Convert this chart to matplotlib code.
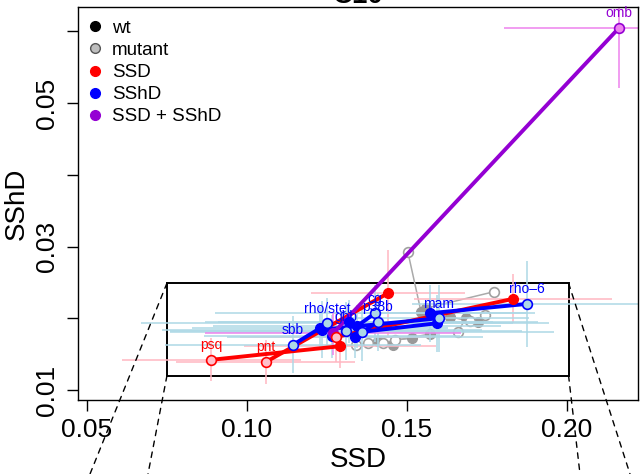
import matplotlib
matplotlib.use('Agg')
import matplotlib.pyplot as plt
from matplotlib.lines import Line2D
from matplotlib.patches import Rectangle, ConnectionPatch

plt.rcParams['font.family'] = ['Liberation Sans', 'DejaVu Sans']

# ---------------- data (SSD, SShD) ----------------
# gray: non-significant genotypes (wt filled, mutant open)
gray_mut_x = [0.1503, 0.1772, 0.1659, 0.1463, 0.1425, 0.1378, 0.1697, 0.1341, 0.1744]
gray_mut_y = [0.0292, 0.0237, 0.0181, 0.0170, 0.0166, 0.0166, 0.0196, 0.0163, 0.0205]
gray_wt_x = [0.1544, 0.1559, 0.1684, 0.1516, 0.1572, 0.1456, 0.1634, 0.1409, 0.1722]
gray_wt_y = [0.0209, 0.0214, 0.0200, 0.0172, 0.0178, 0.0163, 0.0202, 0.0168, 0.0195]

# red: SSD significant
red_names = ['psq', 'pnt', '']
red_mut_x = [0.0888, 0.1059, 0.1278]
red_mut_y = [0.0142, 0.0139, 0.0174]
red_wt_x = [0.1291, 0.1441, 0.1831]
red_wt_y = [0.0161, 0.0235, 0.0227]
red_mut_xerr = [0.028, 0.028, 0.030]
red_mut_yerr = [0.0030, 0.0030, 0.0035]
red_wt_xerr = [0.030, 0.024, 0.031]
red_wt_yerr = [0.0030, 0.0060, 0.0034]

# blue: SShD significant
blue_names = ['rho\u20136', 'mam', 'sbb', 'rho/stet', 'cg', 'p38b', 'gbb', '']
blue_mut_x = [0.1875, 0.1600, 0.1144, 0.1250, 0.1400, 0.1409, 0.1309, 0.1359]
blue_mut_y = [0.0220, 0.0200, 0.0163, 0.0193, 0.0207, 0.0195, 0.0182, 0.0181]
blue_wt_x = [0.1572, 0.1234, 0.1228, 0.1266, 0.1344, 0.1338, 0.1319, 0.1594]
blue_wt_y = [0.0207, 0.0184, 0.0186, 0.0175, 0.0189, 0.0174, 0.0195, 0.0193]
blue_mut_xerr = [0.036, 0.028, 0.040, 0.058, 0.050, 0.050, 0.055, 0.060]
blue_mut_yerr = [0.0060, 0.0047, 0.0040, 0.0035, 0.0040, 0.0040, 0.0040, 0.0040]
blue_wt_xerr = [0.030, 0.050, 0.040, 0.040, 0.045, 0.040, 0.045, 0.035]
blue_wt_yerr = [0.0040, 0.0040, 0.0030, 0.0030, 0.0030, 0.0030, 0.0030, 0.0040]

# purple: SSD + SShD significant
purple_names = ['omb']
purple_mut_x = [0.2163]
purple_mut_y = [0.0605]
purple_wt_x = [0.1269]
purple_wt_y = [0.0179]
purple_mut_xerr = [0.036]
purple_mut_yerr = [0.0084]
purple_wt_xerr = [0.040]
purple_wt_yerr = [0.0030]

# zoom region drawn as rectangle
zoom_x = [0.075, 0.2005]
zoom_y = [0.012, 0.0249]

legend_labels = ['wt', 'mutant', 'SSD', 'SShD', 'SSD + SShD']

# ---------------- figure ----------------
W, H = 641, 474
fig = plt.figure(figsize=(W / 100, H / 100), dpi=100)
ax = fig.add_axes([78 / W, 1 - 400 / H, 560 / W, 393 / H])
ax.set_xlim(0.0472, 0.2222)
ax.set_ylim(0.0086, 0.0634)

groups = [
    (red_names, red_mut_x, red_mut_y, red_wt_x, red_wt_y, red_mut_xerr, red_mut_yerr,
     red_wt_xerr, red_wt_yerr, '#FF0000', '#FFC0CB', '#FFB6C1', '#FF0000'),
    (blue_names, blue_mut_x, blue_mut_y, blue_wt_x, blue_wt_y, blue_mut_xerr, blue_mut_yerr,
     blue_wt_xerr, blue_wt_yerr, '#0000FF', '#ADD8E6', '#ADD8E6', '#0000FF'),
    (purple_names, purple_mut_x, purple_mut_y, purple_wt_x, purple_wt_y, purple_mut_xerr,
     purple_mut_yerr, purple_wt_xerr, purple_wt_yerr, '#9400D3', '#EE82EE', '#EE82EE', '#9400D3'),
]

# gray pairs
for mx, my, wx, wy in zip(gray_mut_x, gray_mut_y, gray_wt_x, gray_wt_y):
    ax.plot([mx, wx], [my, wy], color='#AAAAAA', lw=1.1, zorder=2)
ax.plot(gray_wt_x, gray_wt_y, 'o', color='#999999', ms=7, zorder=2.1)
ax.plot(gray_mut_x, gray_mut_y, 'o', mfc='white', mec='#A0A0A0', mew=1.2, ms=7, zorder=2.2)

# error bars
for (names, mx, my, wx, wy, mxe, mye, wxe, wye, col, fill, ecol, tcol) in groups:
    ax.errorbar(mx, my, xerr=mxe, yerr=mye, fmt='none', ecolor=ecol, elinewidth=1.1,
                capsize=0, zorder=2.5)
    ax.errorbar(wx, wy, xerr=wxe, yerr=wye, fmt='none', ecolor=ecol, elinewidth=1.1,
                capsize=0, zorder=2.5)

# colored pairs
for (names, mx, my, wx, wy, mxe, mye, wxe, wye, col, fill, ecol, tcol) in groups:
    for a, b, c, d in zip(mx, my, wx, wy):
        ax.plot([a, c], [b, d], color=col, lw=2.8, solid_capstyle='round', zorder=3)
for (names, mx, my, wx, wy, mxe, mye, wxe, wye, col, fill, ecol, tcol) in groups:
    ax.plot(wx, wy, 'o', color=col, ms=7, zorder=4)
    ax.plot(mx, my, 'o', mfc=fill, mec=col, mew=1.2, ms=7, zorder=4.1)
    for n, a, b in zip(names, mx, my):
        if n:
            ax.annotate(n, (a, b), xytext=(0, 10.5), textcoords='offset points',
                        ha='center', va='center', fontsize=10, color=tcol, zorder=5)

# zoom rectangle + dashed connectors
ax.add_patch(Rectangle((zoom_x[0], zoom_y[0]), zoom_x[1] - zoom_x[0], zoom_y[1] - zoom_y[0],
                       fill=False, ec='black', lw=1.4, zorder=1.5))
targets = [((zoom_x[0], zoom_y[1]), 90 / W), ((zoom_x[0], zoom_y[0]), 148 / W),
           ((zoom_x[1], zoom_y[0]), 580 / W), ((zoom_x[1], zoom_y[1]), 630 / W)]
for xyA, fx in targets:
    con = ConnectionPatch(xyA=xyA, coordsA=ax.transData, xyB=(fx, 0.0),
                          coordsB=fig.transFigure, color='black', lw=1.0,
                          linestyle=(0, (4, 4)), zorder=6)
    fig.add_artist(con)

# axes styling
ax.set_xticks([0.05, 0.10, 0.15, 0.20])
ax.set_xticklabels(['0.05', '0.10', '0.15', '0.20'])
ax.set_yticks([0.01, 0.02, 0.03, 0.04, 0.05, 0.06])
ax.set_yticklabels(['0.01', '', '0.03', '', '0.05', ''])
ax.tick_params(axis='both', direction='out', length=8, width=1, labelsize=19)
ax.tick_params(axis='x', pad=5)
ax.tick_params(axis='y', pad=6)
for lab in ax.get_yticklabels():
    lab.set_rotation(90)
    lab.set_va('center')
for s in ax.spines.values():
    s.set_linewidth(1.0)

ax.set_xlabel('SSD', fontsize=20)
ax.xaxis.set_label_coords(0.5, -0.153)
ax.xaxis.label.set_va('center')
ax.set_ylabel('SShD', fontsize=20)
ax.yaxis.set_label_coords(-0.109, 0.5)
ax.yaxis.label.set_va('center')

# legend
handles = [
    Line2D([], [], ls='', marker='o', color='black', ms=7),
    Line2D([], [], ls='', marker='o', mfc='#BEBEBE', mec='#555555', mew=1.0, ms=7),
    Line2D([], [], ls='', marker='o', color='#FF0000', ms=7),
    Line2D([], [], ls='', marker='o', color='#0000FF', ms=7),
    Line2D([], [], ls='', marker='o', color='#9400D3', ms=7),
]
ax.legend(handles, legend_labels, loc='upper left', bbox_to_anchor=(0.0143, 0.968),
          frameon=False, fontsize=13.5, handlelength=1.0, handletextpad=0.4,
          labelspacing=0.27, borderaxespad=0, borderpad=0)

fig.text(358 / W, 1 - 3 / H, 'C10', ha='center', va='baseline', fontsize=20,
         fontweight='bold')

fig.savefig('out.png', dpi=100)
